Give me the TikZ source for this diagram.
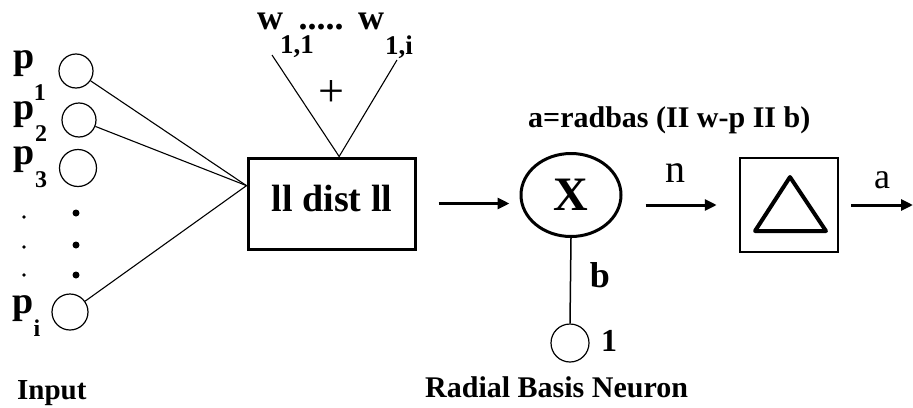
\documentclass[tikz,border=0pt]{standalone}
\usepackage{fontspec}
\setmainfont{Liberation Serif}
\usetikzlibrary{shapes.geometric,arrows.meta,calc}
\begin{document}
\begin{tikzpicture}[x=1pt,y=-1pt,
 inc/.style={circle,draw,line width=1.2pt,inner sep=0pt,minimum size=#1},
 lbl/.style={inner sep=0pt,font=\fontsize{#1}{#1}\selectfont\bfseries},
 rlbl/.style={inner sep=0pt,font=\fontsize{#1}{#1}\selectfont},
 thinline/.style={line width=1.1pt},
 arr/.style={line width=3pt,-{Triangle[length=12pt,width=11pt]}},
]
\useasboundingbox (0,0) rectangle (913,407);
% input circles
\node[inc=34pt] (c1) at (76,71) {};
\node[inc=34pt] (c2) at (79,120) {};
\node[inc=37pt] (c3) at (78,168) {};
\node[inc=36pt] (ci) at (70,312) {};
% input labels
\node[lbl=38] (p1) at (24,64) {p};
\node[lbl=24] (s1) at (40,93) {1};
\node[lbl=38] (p2) at (24,115) {p};
\node[lbl=24] (s2) at (41,134) {2};
\node[lbl=38] (p3) at (24,160) {p};
\node[lbl=24] (s3) at (41,180) {3};
\node[lbl=38] (pi) at (23,309) {p};
\node[lbl=24] (si) at (37,328) {i};
% dots
\foreach \yy in {213,245,275} \fill (76,\yy) circle (3.5pt);
\foreach \yy in {217,247,275} \fill (24,\yy) circle (1.8pt);
% dist box
\node[draw,line width=3pt,minimum width=167pt,minimum height=91pt,inner sep=0pt] (box) at (331.5,203.5) {};
\node[lbl=38] (dist) at (332,198) {ll dist ll};
% neuron
\node[ellipse,draw,line width=3pt,minimum width=100pt,minimum height=83pt,inner sep=0pt,font=\fontsize{48}{48}\selectfont\bfseries] (xc) at (571,195) {X};
% transfer box
\node[draw,line width=2.5pt,minimum width=98pt,minimum height=94pt,inner sep=0pt] (tb) at (789,205) {};
\draw[line width=4pt,line join=round] (790,177) -- (826,231) -- (755,231) -- cycle;
% bias
\node[inc=38pt] (one) at (570,343) {};
% connectors
\coordinate (J) at ($(box.north west)!0.31!(box.south west)$);
\draw[thinline] (c1) -- (J);
\draw[thinline] (c2) -- (J);
\draw[thinline] (ci) -- (J);
\coordinate (wa) at (272,55);
\coordinate (wb) at (397,60);
\coordinate (T) at ($(box.north west)!0.545!(box.north east)$);
\draw[thinline] (wa) -- (T) -- (wb);
\draw[arr,shorten <=22pt,shorten >=10pt] (box.east) -- (box.east -| xc.west);
\draw[arr,shorten <=23pt,shorten >=22pt] (xc.east |- tb.west) -- (tb.west);
\coordinate (aout) at (913,205);
\draw[arr,shorten <=12pt] (tb.east) -- (aout);
\draw[line width=1.5pt] (xc.south) -- (one.north);
% labels
\node[rlbl=40] (nl) at (675,173) {n};
\node[rlbl=36] (al) at (882,180) {a};
\node[lbl=36] (bl) at (600,275) {b};
\node[lbl=32] (onel) at (609,341) {1};
\node[rlbl=46] (plus) at (331,94) {+};
\node[lbl=36] (w1) at (270,21) {w};
\node[lbl=27,anchor=base] (w1s) at (297,53) {1,1};
\node[lbl=36,anchor=base] (wd) at (321,29) {.....};
\node[lbl=36] (w2) at (371,21) {w};
\node[lbl=27,anchor=base] (w2s) at (399,54) {1,i};
\node[lbl=30,anchor=base west] (form) at (528,127) {a=radbas (II w-p II b)};
\node[lbl=29,anchor=base west] (inp) at (17,399) {Input};
\node[lbl=30,anchor=base west] (rbn) at (425,397) {Radial Basis Neuron};
\end{tikzpicture}
\end{document}
